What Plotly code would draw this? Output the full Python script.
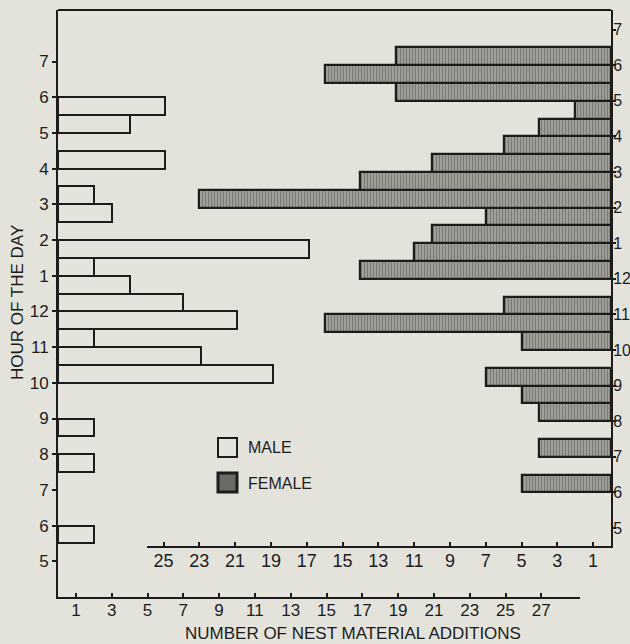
import plotly.graph_objects as go

# Half-hour bins (start time, 24 h clock) and number of nest material additions
male_start = [5.5, 7.5, 8.5, 10, 10.5, 11, 11.5, 12, 12.5, 13, 13.5, 14.5, 15, 16, 17, 17.5]
male_count = [2, 2, 2, 12, 8, 2, 10, 7, 4, 2, 14, 3, 2, 6, 4, 6]

female_start = [6, 7, 8, 8.5, 9, 10, 10.5, 11, 12, 12.5, 13, 13.5, 14, 14.5, 15, 15.5,
                16, 16.5, 17, 17.5, 18]
female_count = [5, 4, 4, 5, 7, 5, 16, 6, 14, 11, 10, 7, 23, 14, 10, 6, 4, 2, 12, 16, 12]

hour_vals = list(range(5, 20))
hour_text = ["5", "6", "7", "8", "9", "10", "11", "12", "1", "2", "3", "4", "5", "6", "7"]
male_ticks = list(range(1, 29, 2))
female_ticks = list(range(1, 26, 2))

PAPER = "#e3e3dc"
INK = "#1c1c1c"
FONT = "Liberation Sans, Arial, sans-serif"
NARROW = "Liberation Sans Narrow, Arial Narrow, Liberation Sans, sans-serif"

W, H = 630, 644
L, R, T, B = 58, 19, 10, 47
PW, PH = W - L - R, H - T - B


def px(x):
    return (x - L) / PW


def py(y):
    return (H - B - y) / PH


fig = go.Figure()

fig.add_trace(go.Bar(
    x=male_count, y=[s + 0.25 for s in male_start], width=0.5, orientation="h",
    marker=dict(color=PAPER, line=dict(color=INK, width=2)),
    xaxis="x", yaxis="y", name="MALE", showlegend=False,
))

fig.add_trace(go.Bar(
    x=female_count, y=[s + 0.25 for s in female_start], width=0.5, orientation="h",
    marker=dict(color="#a6a6a0", line=dict(color=INK, width=2.2),
                pattern=dict(shape="|", fgcolor="#4e4e4a", size=3, solidity=0.45)),
    xaxis="x2", yaxis="y2", name="FEMALE", showlegend=False,
))

axis_common = dict(showgrid=False, zeroline=False, showline=True, linecolor=INK,
                   linewidth=2, tickcolor=INK, tickwidth=1.5, automargin=False)

fig.update_layout(
    width=W, height=H,
    margin=dict(l=L, r=R, t=T, b=B, autoexpand=False),
    paper_bgcolor=PAPER, plot_bgcolor="rgba(0,0,0,0)",
    font=dict(family=FONT, color=INK),
    bargap=0,
    xaxis=dict(domain=[0, px(580)], range=[0, (580 - L) / 17.9],
               tickvals=male_ticks, ticks="inside", ticklen=4, ticklabelstandoff=-3,
               tickfont=dict(size=17), anchor="y", **axis_common),
    yaxis=dict(domain=[0, 1], range=[4, 4 + PH / 35.7], tickvals=hour_vals,
               ticktext=hour_text, ticks="outside", ticklen=4,
               tickfont=dict(size=17), anchor="x", side="left", **axis_common),
    xaxis2=dict(domain=[px(147), 1], range=[(611 - 147) / 17.9, 0],
                tickvals=female_ticks, ticks="inside", ticklen=4, ticklabelstandoff=-3,
                tickfont=dict(size=18), anchor="y2", side="bottom", **axis_common),
    yaxis2=dict(domain=[py(546), 1], range=[5 - 18 / 35.6, 5 + 518 / 35.6],
                tickvals=hour_vals, ticktext=hour_text, ticks="outside", ticklen=3,
                ticklabelstandoff=-6,
                tickfont=dict(size=16, family=NARROW), anchor="x2", side="right",
                **axis_common),
)

# top border of the frame
fig.add_shape(type="line", xref="paper", yref="paper", x0=0, x1=1, y0=1, y1=1,
              line=dict(color=INK, width=2))

# key
fig.add_shape(type="rect", xref="paper", yref="paper",
              x0=px(218), x1=px(237), y0=py(457), y1=py(438),
              line=dict(color=INK, width=2), fillcolor=PAPER)
fig.add_shape(type="rect", xref="paper", yref="paper",
              x0=px(218), x1=px(237), y0=py(492), y1=py(473),
              line=dict(color=INK, width=3), fillcolor="#6a6a66")
fig.add_annotation(text="MALE", xref="paper", yref="paper", x=px(246), y=py(447),
                   xanchor="left", yanchor="middle", showarrow=False,
                   font=dict(size=16, color=INK))
fig.add_annotation(text="FEMALE", xref="paper", yref="paper", x=px(246), y=py(483),
                   xanchor="left", yanchor="middle", showarrow=False,
                   font=dict(size=16, color=INK))

# axis titles
fig.add_annotation(text="NUMBER OF NEST MATERIAL ADDITIONS", xref="paper", yref="paper",
                   x=px(353), y=py(633.5), xanchor="center", yanchor="middle",
                   showarrow=False, font=dict(size=17, color=INK))
fig.add_annotation(text="HOUR OF THE DAY", xref="paper", yref="paper",
                   x=px(17), y=py(303), xanchor="center", yanchor="middle",
                   textangle=-90, showarrow=False, font=dict(size=17, color=INK))

fig.write_html("out.html")
